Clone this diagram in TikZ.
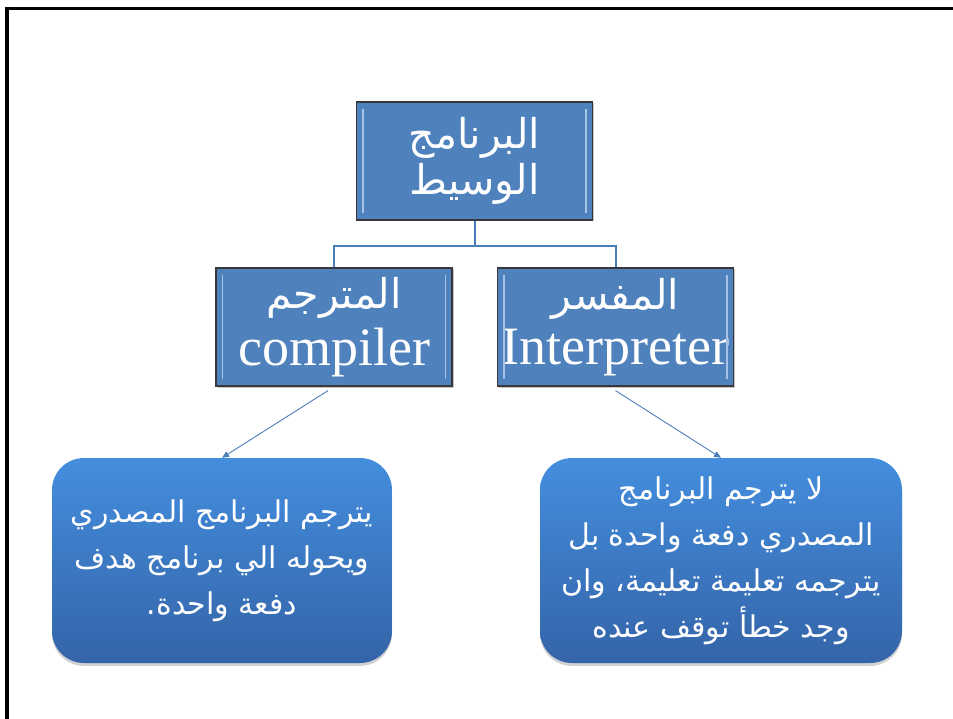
\documentclass[tikz,border=0pt]{standalone}
\usepackage{fontspec}
\setmainfont{Liberation Serif}
\newfontfamily\arabicfont[Script=Arabic]{DejaVu Sans}
\TeXXeTstate=1
\usetikzlibrary{arrows.meta,shadows,shadings,calc}
\definecolor{boxblue}{RGB}{79,129,189}
\definecolor{boxedge}{RGB}{55,55,60}
\definecolor{bevel}{RGB}{165,195,230}
\definecolor{gradtop}{RGB}{68,142,222}
\definecolor{gradbot}{RGB}{52,100,168}
\definecolor{linkblue}{RGB}{74,126,187}
\tikzset{
  sqbox/.style={rectangle, minimum width=236pt, minimum height=118pt, inner sep=0pt,
    fill=boxblue, draw=boxedge, line width=1.2pt, text=white, align=center,
    drop shadow={shadow xshift=1.5pt, shadow yshift=-1.5pt, opacity=0.45}},
  rbox/.style={rectangle, rounded corners=32pt, minimum height=205pt, inner sep=0pt,
    top color=gradtop, bottom color=gradbot, draw=none, text=white, align=center,
    drop shadow={shadow xshift=0pt, shadow yshift=-3pt, opacity=0.35}},
  bevelline/.style={draw=bevel, line width=1.6pt},
  tree/.style={draw=linkblue, line width=2pt},
  arrowline/.style={draw=linkblue, line width=0.9pt, -{Triangle[length=7pt,width=6pt]}},
  bigar/.style={font=\arabicfont\fontsize{41}{46}\selectfont},
  smallar/.style={font=\arabicfont\fontsize{30}{46}\selectfont},
}
\begin{document}
\begin{tikzpicture}[x=1pt,y=-1pt]
\useasboundingbox (0,0) rectangle (953,719);
\fill[white] (0,0) rectangle (953,719);
\draw[line width=3.5pt] (7,721) -- (7,8.5) -- (955,8.5);

\node[sqbox, bigar] (top) at (474.5,161) {\beginR البرنامج\endR\\\beginR الوسيط\endR};
\node[sqbox, bigar] (comp) at (334,327) {\beginR المترجم\endR\\[9pt]{\rmfamily\fontsize{54}{60}\selectfont compiler}};
\node[sqbox, bigar] (int) at (615.5,327) {\beginR المفسر\endR\\[9pt]{\rmfamily\fontsize{54}{60}\selectfont Interpreter}};

\foreach \n in {top,comp,int}{
  \draw[bevelline] ([xshift=7pt,yshift=-8pt]\n.north west) -- ([xshift=7pt,yshift=8pt]\n.south west);
  \draw[bevelline] ([xshift=-7pt,yshift=-8pt]\n.north east) -- ([xshift=-7pt,yshift=8pt]\n.south east);
}

\draw[tree] (top.south) -- ++(0,25) -| (comp.north);
\draw[tree] (top.south) -- ++(0,25) -| (int.north);

\node[rbox, minimum width=340pt, smallar] (lbox) at (222,560.5)
  {\beginR يترجم البرنامج المصدري\endR\\\beginR ويحوله الي برنامج هدف\endR\\\beginR دفعة واحدة.\endR};
\node[rbox, minimum width=362pt, smallar] (rbox) at (721,560.5)
  {\beginR لا يترجم البرنامج\endR\\\beginR المصدري دفعة واحدة بل\endR\\\beginR يترجمه تعليمة تعليمة، وان\endR\\\beginR وجد خطأ توقف عنده\endR};

\draw[arrowline] (comp.south) ++(-6,4) -- (lbox.north);
\draw[arrowline] (int.south) ++(0,4) -- (rbox.north);
\end{tikzpicture}
\end{document}
